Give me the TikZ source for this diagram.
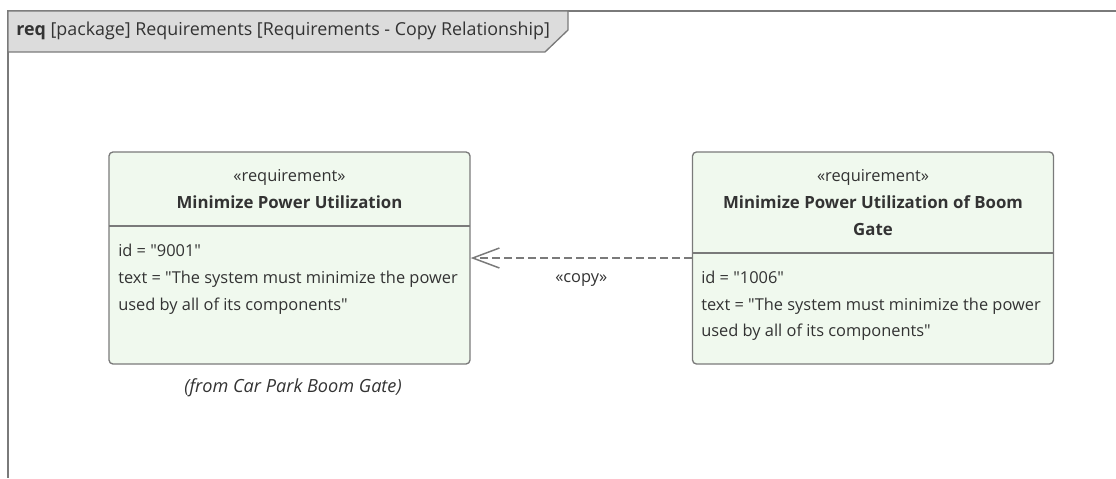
\documentclass[tikz,border=0pt]{standalone}
\usepackage{fontspec}
\setmainfont{Open Sans}
\usetikzlibrary{arrows.meta}
\definecolor{reqfill}{HTML}{F0F9EE}
\definecolor{reqline}{HTML}{7A7A7A}
\definecolor{reqtext}{HTML}{333333}
\definecolor{tabfill}{HTML}{DCDCDC}
\newcommand{\dq}{\textquotedbl}
\tikzset{
  reqbox/.style={draw=reqline, fill=reqfill, rounded corners=3pt, line width=1pt,
    minimum width=270.75pt, minimum height=159pt, inner sep=0pt},
  reqtxt/.style={text=reqtext, font=\fontsize{12.3}{14}\selectfont, inner sep=0pt},
  divider/.style={draw=reqline, line width=1pt},
}
\begin{document}
\begin{tikzpicture}[x=0.75pt,y=-0.75pt]
        \useasboundingbox (0,0) rectangle (1116,478);
        % Frame
        \draw[reqline, line width=1.5pt] (1116,11) -- (8,11) -- (8,478);
        \draw[reqline, line width=1pt, fill=tabfill] (8,11) -- (568,11) -- (568,30) -- (545,52) -- (8,52) -- cycle;
        \node[reqtxt, anchor=mid west, font=\fontsize{13.4}{15}\selectfont] (title) at (16,31.5) {\textbf{req} [package] Requirements [Requirements - Copy Relationship]};

        % Requirements
        \node[reqbox] (minpow) at (289.5,258) {};
        \node[reqbox] (minboom) at (873,258) {};
        \draw[divider] (109,226) -- (470,226);
        \draw[divider] (692,253) -- (1054,253);

        % Left text
        \node[reqtxt, anchor=mid] (st1) at (289.5,178) {«requirement»};
        \node[reqtxt, anchor=mid, font=\fontsize{12.6}{14}\selectfont] (nm1) at (289.5,204.5) {\textbf{Minimize Power Utilization}};
        \node[reqtxt, anchor=mid west] (id1) at (118,253) {id = \dq 9001\dq};
        \node[reqtxt, anchor=mid west] (tx1) at (118,280) {text = \dq The system must minimize the power};
        \node[reqtxt, anchor=mid west] (tx1b) at (118,307) {used by all of its components\dq};
        \node[reqtxt, anchor=mid, font=\fontsize{13.6}{15}\selectfont\itshape] (from) at (293,389) {(from Car Park Boom Gate)};

        % Right text
        \node[reqtxt, anchor=mid] (st2) at (873,178) {«requirement»};
        \node[reqtxt, anchor=mid, font=\fontsize{12.6}{14}\selectfont] (nm2) at (873,204.5) {\textbf{Minimize Power Utilization of Boom}};
        \node[reqtxt, anchor=mid, font=\fontsize{12.6}{14}\selectfont] (nm2b) at (873,231.5) {\textbf{Gate}};
        \node[reqtxt, anchor=mid west] (id2) at (701,280) {id = \dq 1006\dq};
        \node[reqtxt, anchor=mid west] (tx2) at (701,307) {text = \dq The system must minimize the power};
        \node[reqtxt, anchor=mid west] (tx2b) at (701,333) {used by all of its components\dq};

        % Copy
        \draw[reqline, line width=1.1pt, dash pattern=on 6pt off 3pt,
              -{Straight Barb[length=20pt, width=15pt, line width=1.1pt]}]
          (minboom.west) -- node[reqtxt, midway, below=11pt] {«copy»} (minpow.east);
    \end{tikzpicture}
\end{document}
